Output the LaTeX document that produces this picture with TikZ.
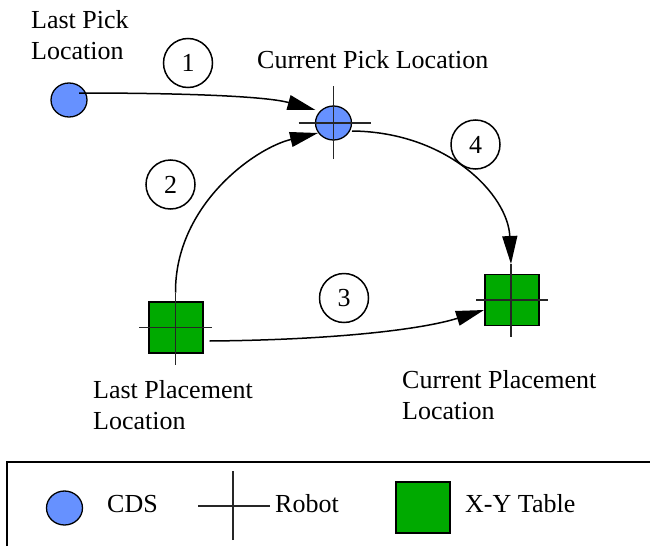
\documentclass[tikz,border=0pt]{standalone}
\usepackage{fontspec}
\setmainfont{Liberation Serif}
\usetikzlibrary{shapes.geometric,arrows.meta}
\definecolor{cdsblue}{RGB}{102,145,255}
\definecolor{xygreen}{RGB}{0,170,0}
\begin{document}
\begin{tikzpicture}[x=1pt,y=-1pt,
  lbl/.style={anchor=base west,inner sep=0pt,font=\fontsize{26}{31}\selectfont},
  cds/.style={ellipse,draw,line width=1.3pt,fill=cdsblue,minimum width=36pt,minimum height=34pt,inner sep=0pt},
  xyt/.style={rectangle,draw,line width=1.3pt,fill=xygreen,minimum width=54pt,minimum height=51pt,inner sep=0pt},
  crossline/.style={line width=1.5pt,draw=black!85},
  numc/.style={circle,draw,line width=1.5pt,minimum size=49pt,inner sep=0pt,font=\fontsize{26}{31}\selectfont},
  arr/.style={line width=1.5pt,-{Triangle[length=28pt,width=15pt]}},
  frame/.style={line width=1.8pt}]
\useasboundingbox (0,0) rectangle (650,546);

% objects
\node[cds] (lp) at (69,100) {};
\node[cds] (cp) at (333.5,123) {};
\node[xyt] (lpl) at (176,327.5) {};
\node[xyt] (cpl) at (512,300) {};

% robot crosses
\draw[crossline] ([xshift=-35pt]cp.center) -- ([xshift=37pt]cp.center);
\draw[crossline] ([yshift=-36pt]cp.center) -- ([yshift=37pt]cp.center);
\draw[crossline] ([xshift=-37pt]lpl.center) -- ([xshift=36pt]lpl.center);
\draw[crossline] ([shift={(-0.5,-35)}]lpl.center) -- ([shift={(-0.5,37)}]lpl.center);
\draw[crossline] ([xshift=-36pt]cpl.center) -- ([xshift=36pt]cpl.center);
\draw[crossline] ([shift={(-1,-36)}]cpl.center) -- ([shift={(-1,37)}]cpl.center);

% step numbers
\node[numc] (n1) at (188,63) {1};
\node[numc] (n2) at (170.5,184.5) {2};
\node[numc] (n3) at (344,298) {3};
\node[numc] (n4) at (475.5,144.5) {4};

% arrows
\coordinate (a1s) at ([shift={(10,-7)}]lp.center);
\coordinate (a1e) at ([shift={(-18,-13)}]cp.center);
\draw[arr] (a1s) .. controls (180,93) and (265,96) .. (a1e);

\coordinate (a2s) at ([shift={(-0.5,-35)}]lpl.center);
\coordinate (a2e) at ([shift={(-15.5,10)}]cp.center);
\draw[arr] (a2s) .. controls (175,205) and (255,148) .. (a2e);

\coordinate (a4s) at ([shift={(18.5,8)}]cp.center);
\coordinate (a4e) at ([shift={(-1,-36)}]cpl.center);
\draw[arr] (a4s) .. controls (448,132) and (508,195) .. (a4e);

\coordinate (a3s) at ([shift={(33.5,13.5)}]lpl.center);
\coordinate (a3e) at ([shift={(-28,10)}]cpl.center);
\draw[arr] (a3s) .. controls (330,340) and (420,330) .. (a3e);

% labels
\node[lbl] (tlp1) at (31,28) {Last Pick};
\node[lbl] (tlp2) at (31,59) {Location};
\node[lbl] (tcp) at (257,68) {Current Pick Location};
\node[lbl] (tlpl1) at (93,398) {Last Placement};
\node[lbl] (tlpl2) at (93,429) {Location};
\node[lbl] (tcpl1) at (402,388) {Current Placement};
\node[lbl] (tcpl2) at (402,419) {Location};

% legend
\draw[frame] (7,546) -- (7,462) -- (650,462);
\node[cds] (lgc) at (64.5,508) {};
\node[lbl] (lgct) at (107,512) {CDS};
\coordinate (lgr) at (233,506);
\draw[crossline] ([xshift=-35pt]lgr) -- ([xshift=37pt]lgr);
\draw[crossline] ([yshift=-34pt]lgr) -- ([yshift=35pt]lgr);
\node[lbl] (lgrt) at (275,512) {Robot};
\node[xyt] (lgx) at (423,507.5) {};
\node[lbl] (lgxt) at (465,512) {X-Y Table};
\end{tikzpicture}
\end{document}
